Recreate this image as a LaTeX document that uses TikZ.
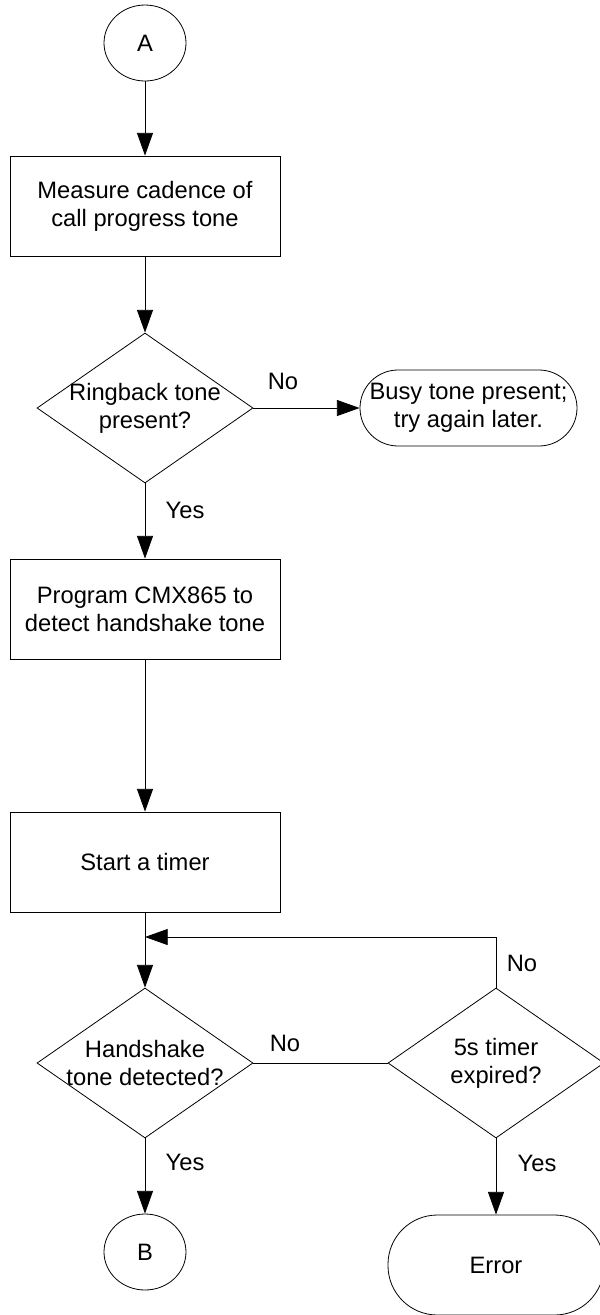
\documentclass[tikz,border=0pt]{standalone}
\usepackage{fontspec}
\setmainfont{Liberation Sans}
\usepackage{tikz}
\usetikzlibrary{shapes.geometric}
\usetikzlibrary{arrows.meta}
\tikzset{
    procbox/.style={
        draw,
        rectangle,
        inner sep=0pt,
        minimum width=202.5pt,
        minimum height=75pt,
        align=center
    },
    % decision diamond, text is set on top of it
    decision/.style={
        draw,
        diamond,
        inner sep=0pt,
        minimum width=162pt,
        minimum height=112.5pt
    },
    offpage/.style={
        draw,
        ellipse,
        inner sep=0pt,
        minimum width=61.5pt,
        minimum height=57pt
    },
    terminal/.style={
        draw,
        rectangle,
        inner sep=0pt,
        align=center
    },
    flowarrow/.style={
        line width=0.6pt,
        black,
        -{Triangle[length=17pt, width=12pt]}
    }
}

\begin{document}
\begin{tikzpicture}[x=0.75pt, y=-0.75pt, line width=0.6pt,
    font=\fontsize{17.8pt}{21pt}\selectfont]
        \useasboundingbox (0,0) rectangle (600,1315);

        \node[offpage] (A) at (145,43) {A};
        \node[procbox] (measure) at (145,206) {Measure cadence of\\call progress tone};
        \node[decision] (ringback) at (145,408) {};
        \node[align=center] (ringbacktxt) at (ringback) {Ringback tone\\present?};
        \node[terminal, rounded corners=28.5pt, minimum width=162.75pt, minimum height=57pt] (busy) at (468.5,408) {Busy tone present;\\try again later.};
        \node[procbox] (program) at (145,609) {Program CMX865 to\\detect handshake tone};
        \node[procbox] (timer) at (145,862) {Start a timer};
        \node[decision] (handshake) at (145,1063) {};
        \node[align=center] (handshaketxt) at (handshake) {Handshake\\tone detected?};
        \node[decision] (expired) at (496,1063) {};
        \node[align=center] (expiredtxt) at (expired) {5s timer\\expired?};
        \node[offpage] (B) at (145,1252) {B};
        \node[terminal, rounded corners=37pt, minimum width=162pt, minimum height=75pt] (error) at (496,1265) {Error};
        \coordinate (loop) at (145,937);

        \draw[flowarrow] (A) -- (measure);
        \draw[flowarrow] (measure) -- (ringback);
        \draw[flowarrow] (ringback) -- (busy);
        \draw[flowarrow] (ringback) -- (program);
        \draw[flowarrow] (program) -- (timer);
        \draw[flowarrow] (timer) -- (handshake);
        \draw (handshake) -- (expired);
        \draw[flowarrow] (expired) |- (loop);
        \draw[flowarrow] (handshake) -- (B);
        \draw[flowarrow] (expired) -- (error);

        \node (no1) at (283,381) {No};
        \node (yes1) at (185,510) {Yes};
        \node (no2) at (285,1043) {No};
        \node (no3) at (522,963) {No};
        \node (yes2) at (185,1162) {Yes};
        \node (yes3) at (537,1163) {Yes};
\end{tikzpicture}
\end{document}
